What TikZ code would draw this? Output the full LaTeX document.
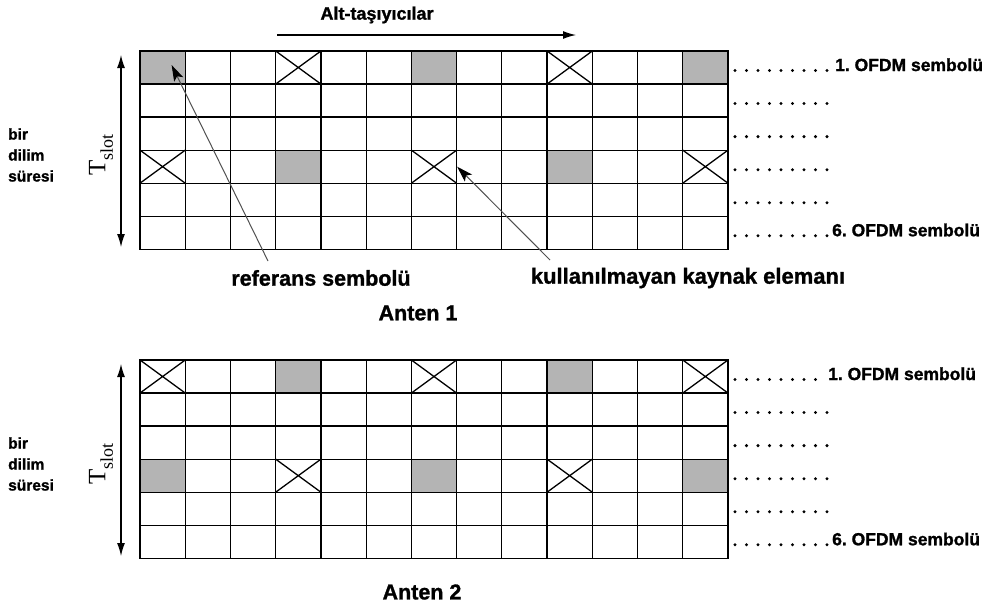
\documentclass[tikz,border=0pt]{standalone}
\usepackage{fontspec}
\setmainfont{Liberation Sans}[BoldFeatures={FakeBold=1.2}]
\newfontfamily\tfont{Liberation Serif}
\usetikzlibrary{arrows.meta,calc,backgrounds}
\definecolor{refgray}{RGB}{180,180,180}
\definecolor{leadgray}{RGB}{80,80,80}
\newcommand{\bsz}[1]{\fontsize{#1}{#1}\selectfont\bfseries}
\frenchspacing

\begin{document}
\begin{tikzpicture}[x=1pt,y=-1pt,
  cellbox/.style={draw=black,line width=1.3pt,minimum width=45.23pt,minimum height=33.05pt,inner sep=0pt,outer sep=0pt},
  crossline/.style={draw=black,line width=1.3pt},
  txt/.style={font=\bsz{21.5},inner sep=0pt},
  ofdm/.style={font=\bsz{17.5},inner sep=0pt,anchor=base west},
  dotrow/.style={line width=3.3pt,line cap=round,dash pattern=on 0pt off 11.5pt},
  axisarrow/.style={line width=1.2pt,-{Latex[length=13pt,width=8pt]}},
  tslotarrow/.style={line width=1.2pt,{Latex[length=13pt,width=8pt]}-{Latex[length=13pt,width=8pt]}},
  leader/.style={draw=leadgray,line width=1pt,-{Stealth[length=16pt,width=10pt,inset=3.5pt,color=black]}},
  duration/.style={anchor=west,align=left,inner sep=0pt,font=\fontsize{15.5}{21}\selectfont\bfseries},
  tslot/.style={rotate=90,inner sep=0pt,font=\tfont\fontsize{25}{25}\selectfont}
]
\useasboundingbox (0,0) rectangle (988,605);

% two resource grids: 6 OFDM symbols x 13 sub-carriers
\foreach \g/\top in {a/51,b/360}{
  \foreach \r in {0,...,5}{
    \foreach \c in {0,...,12}{
      \node[cellbox] (\g\r-\c) at ({140+45.23*(\c+0.5)},{\top+33.05*(\r+0.5)}) {};
    }
  }
}

% reference symbols
\begin{scope}[on background layer]
  \foreach \n in {a0-0,a0-6,a0-12,a3-3,a3-9,b0-3,b0-9,b3-0,b3-6,b3-12}
    \fill[refgray] (\n.north west) rectangle (\n.south east);
\end{scope}

% unused resource elements
\foreach \n in {a0-3,a0-9,a3-0,a3-6,a3-12,b0-0,b0-6,b0-12,b3-3,b3-9}
  \draw[crossline] (\n.north west) -- (\n.south east) (\n.south west) -- (\n.north east);

% dotted continuation of each OFDM symbol
\foreach \g in {a,b}{
  \foreach \r in {1,...,5}
    \draw[dotrow] ($(\g\r-12.east)+(7,3)$) -- ++(92.5,0);
}
\draw[dotrow] ($(a0-12.east)+(7,3)$) -- ++(92.5,0);
\draw[dotrow] ($(b0-12.east)+(7,3)$) -- ++(81,0);

\node[ofdm] (a-first) at ($(a0-12.east)+(107,3.5)$) {1. OFDM sembolü};
\node[ofdm] (a-last)  at ($(a5-12.east)+(104,3.5)$) {6. OFDM sembolü};
\node[ofdm] (b-first) at ($(b0-12.east)+(100,3.5)$) {1. OFDM sembolü};
\node[ofdm] (b-last)  at ($(b5-12.east)+(104,3.5)$) {6. OFDM sembolü};

% sub-carrier axis
\coordinate (alt-start) at (277,35);
\coordinate (alt-end) at (576,35);
\draw[axisarrow] (alt-start) -- (alt-end);
\node[txt,font=\bsz{18}] (alt) at (377,15) {Alt-taşıyıcılar};

% slot duration axes
\foreach \g/\dy in {a/0,b/309}{
  \coordinate (\g-ttop) at (121,{55+\dy});
  \coordinate (\g-tbot) at (121,{247+\dy});
  \draw[tslotarrow] (\g-ttop) -- (\g-tbot);
  \node[tslot] (\g-tslot) at (101,{155+\dy}) {T\raisebox{-0.3em}{\fontsize{18}{18}\selectfont slot}};
  \node[duration] (\g-dur) at (8,{155+\dy}) {bir\\dilim\\süresi};
}

% annotations
\node[txt] (ref-lbl) at (321,278) {referans sembolü};
\node[txt,font=\bsz{22}] (unused-lbl) at (688,278) {kullanılmayan kaynak elemanı};
\coordinate (ref-from) at (268,261);
\coordinate (ref-to) at ($(a0-0.center)+(9,-2.5)$);
\draw[leader] (ref-from) -- (ref-to);
\coordinate (unused-from) at (550,260);
\coordinate (unused-to) at ($(a3-6.east)+(0.5,0)$);
\draw[leader] (unused-from) -- (unused-to);

\node[txt] (ant1) at (418,313) {Anten 1};
\node[txt] (ant2) at (422,592) {Anten 2};
\end{tikzpicture}
\end{document}
